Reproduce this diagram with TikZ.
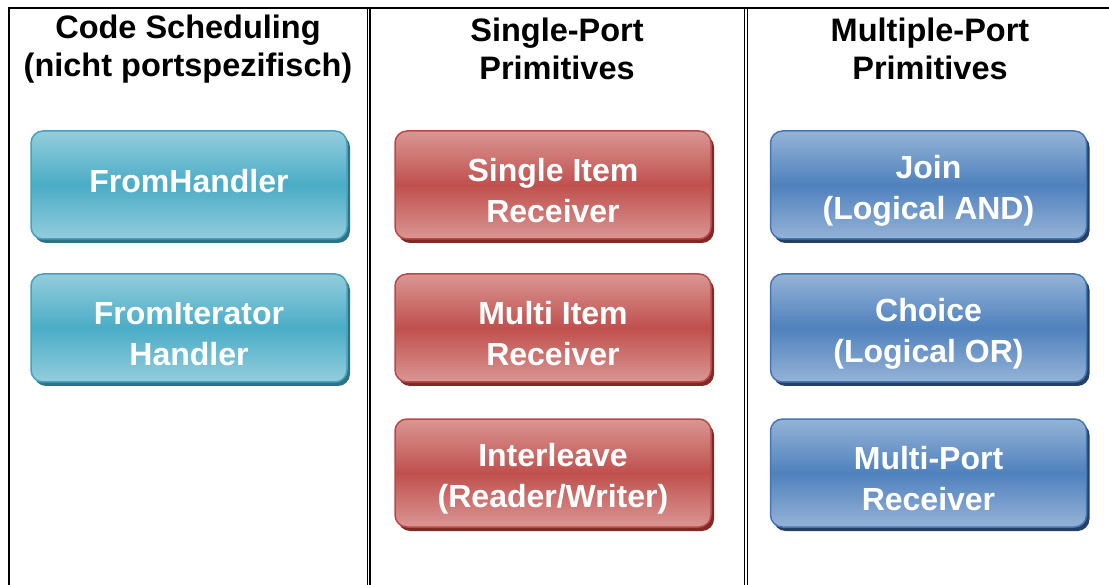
\documentclass[tikz,border=0pt]{standalone}
\usepackage{fontspec}
\setmainfont{Liberation Sans}
\usepackage{tikz}
\usetikzlibrary{positioning}
\usetikzlibrary{shadows}

\definecolor{aquamid}{RGB}{75,172,198}
\definecolor{aqualight}{RGB}{147,205,221}
\definecolor{aquaedge}{RGB}{70,160,188}
\definecolor{aquashadow}{RGB}{45,115,135}
\definecolor{redmid}{RGB}{192,80,77}
\definecolor{redlight}{RGB}{218,150,148}
\definecolor{redledge}{RGB}{185,72,70}
\definecolor{redshadow}{RGB}{128,42,40}
\definecolor{bluemid}{RGB}{79,129,189}
\definecolor{bluelight}{RGB}{149,179,215}
\definecolor{bluedge}{RGB}{70,118,178}
\definecolor{blueshadow}{RGB}{38,64,100}

% strut that lowers two-line labels a little
\newcommand{\lowstrut}{\rule{0pt}{35pt}}

\tikzset{
  head/.style={align=center, font=\fontsize{32.5}{38}\selectfont\bfseries},
  box/.style={rounded corners=12pt, minimum width=316pt, minimum height=108pt,
    align=center, text=white, line width=1.5pt,
    font=\fontsize{32}{41}\selectfont\bfseries},
  oneline/.style={execute at begin node={\rule[-9pt]{0pt}{0pt}}},
  aquabox/.style={box, draw=aquaedge, top color=aqualight, bottom color=aqualight,
    middle color=aquamid,
    drop shadow={shadow xshift=3pt, shadow yshift=-4pt, fill=aquashadow, opacity=1}},
  redbox/.style={box, draw=redledge, top color=redlight, bottom color=redlight,
    middle color=redmid,
    drop shadow={shadow xshift=3pt, shadow yshift=-4pt, fill=redshadow, opacity=1}},
  bluebox/.style={box, draw=bluedge, top color=bluelight, bottom color=bluelight,
    middle color=bluemid,
    drop shadow={shadow xshift=3pt, shadow yshift=-4pt, fill=blueshadow, opacity=1}},
  sep/.style={double, line width=1.3pt, double distance=1.4pt}
}

\begin{document}
\begin{tikzpicture}[x=1pt,y=-1pt]

 \useasboundingbox (0,0) rectangle (1109,585);

 % frame
 \draw[line width=2.2pt] (9,8) -- (1109,8);
 \draw[line width=2.2pt] (9,7) -- (9,585);
 \foreach \x in {368.5,746}
     \draw[sep] (\x,9) -- (\x,585);

 % column heads
 \node[head] (hcode) at (188,49) {Code Scheduling\\(nicht portspezifisch)};
 \node[head] (hsingle) at (557,49) {Single-Port\\Primitives};
 \node[head] (hmulti) at (930,49) {Multiple-Port\\Primitives};

 % code scheduling
 \node[aquabox,oneline] (fromhandler) at (189,185) {FromHandler};
 \node[aquabox] (fromiter) at (189,328) {\lowstrut FromIterator\\Handler};

 % single port
 \node[redbox] (singleitem) at (553,185) {\lowstrut Single Item\\Receiver};
 \node[redbox] (multiitem) at (553,328) {\lowstrut Multi Item\\Receiver};
 \node[redbox] (interleave) at (553,473) {\lowstrut Interleave\\(Reader/Writer)};

 % multiple port
 \node[bluebox] (join) at (928.5,185) {\lowstrut Join\\(Logical AND)};
 \node[bluebox] (choice) at (928.5,328) {\lowstrut Choice\\(Logical OR)};
 \node[bluebox] (multiport) at (928.5,473) {\lowstrut Multi-Port\\Receiver};

\end{tikzpicture}
\end{document}
